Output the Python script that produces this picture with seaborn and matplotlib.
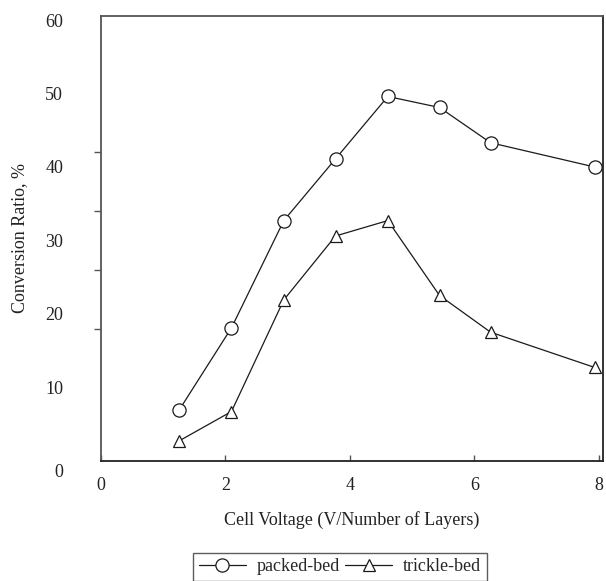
import numpy as np
import pandas as pd
import seaborn as sns
import matplotlib
matplotlib.use("Agg")
import matplotlib.pyplot as plt
from matplotlib import transforms
from matplotlib.lines import Line2D

# ---- data ----
voltage = [1.26, 2.10, 2.94, 3.77, 4.61, 5.44, 6.26, 7.93]
packed_bed = [6.9, 18.1, 32.7, 41.1, 49.6, 48.1, 43.3, 40.0]
trickle_bed = [2.7, 6.7, 21.9, 30.6, 32.7, 22.5, 17.5, 12.7]
series_names = ["packed-bed", "trickle-bed"]
x_ticks = [0, 2, 4, 6, 8]
y_ticks = [0, 10, 20, 30, 40, 50, 60]
y_minor = [10, 18, 26, 34, 42, 50]

df = pd.DataFrame({
    "voltage": voltage * 2,
    "ratio": packed_bed + trickle_bed,
    "series": [series_names[0]] * len(voltage) + [series_names[1]] * len(voltage),
})

sns.set_theme(style="ticks")
plt.rcParams["font.family"] = ["Liberation Serif", "DejaVu Serif"]
plt.rcParams["font.size"] = 13

fig = plt.figure(figsize=(6.06, 5.81), dpi=100)
ax = fig.add_axes([100.7 / 606, 1 - 460.7 / 581, (602.7 - 100.7) / 606, (460.7 - 15.7) / 581])

markers = {"packed-bed": "o", "trickle-bed": "^"}
msizes = {"packed-bed": 9.5, "trickle-bed": 9}
for name in series_names:
    sub = df[df["series"] == name]
    sns.lineplot(data=sub, x="voltage", y="ratio", ax=ax, color="#1a1a1a",
                 linewidth=0.9, marker=markers[name], markersize=msizes[name],
                 markerfacecolor="white", markeredgecolor="#1a1a1a",
                 markeredgewidth=0.9, label=name, legend=False)

ax.set_xlim(0, 8.06)
ax.set_ylim(0, 60.6)
ax.set_xticks(x_ticks)
ax.set_xticklabels([str(v) for v in x_ticks])
ax.set_yticks(y_ticks)
ax.set_yticklabels([str(v) for v in y_ticks])
ax.set_yticks(y_minor, minor=True)
ax.tick_params(axis="y", which="major", length=0, pad=27, labelsize=13, colors="#222222")
ax.tick_params(axis="y", which="minor", length=5, width=1, direction="out", color="#555555")
ax.tick_params(axis="x", which="major", length=4.5, width=1, direction="in", pad=12,
               labelsize=13, color="#555555", labelcolor="#222222")

# shift the y "0" label down as in the reference
for lbl in ax.get_yticklabels():
    if lbl.get_text() == "0":
        lbl.set_transform(lbl.get_transform() + transforms.ScaledTranslation(0, -0.10, fig.dpi_scale_trans))

for side in ["left", "right", "top", "bottom"]:
    ax.spines[side].set_visible(True)
    ax.spines[side].set_color("#555555")
    ax.spines[side].set_linewidth(1.3)
ax.spines["bottom"].set_color("#222222")
ax.spines["right"].set_color("#222222")

ax.set_xlabel("Cell Voltage (V/Number of Layers)", fontsize=13, labelpad=12, color="#222222")
ax.set_ylabel("Conversion Ratio, %", fontsize=13, labelpad=12, color="#222222")
ax.grid(False)

handles = [Line2D([], [], color="#1a1a1a", linewidth=0.9, marker=markers[n],
                  markersize=msizes[n], markerfacecolor="white",
                  markeredgecolor="#1a1a1a", markeredgewidth=0.9) for n in series_names]
leg = fig.legend(handles, series_names, loc="upper center",
                 bbox_to_anchor=(340 / 606, 1 - 552.7 / 581), ncol=2,
                 frameon=True, fancybox=False, edgecolor="#333333",
                 fontsize=13, handlelength=2.6, handletextpad=0.6, columnspacing=0.3,
                 borderpad=0.3, borderaxespad=0)
leg.get_frame().set_linewidth(1.0)

fig.savefig("out.png", dpi=100)
